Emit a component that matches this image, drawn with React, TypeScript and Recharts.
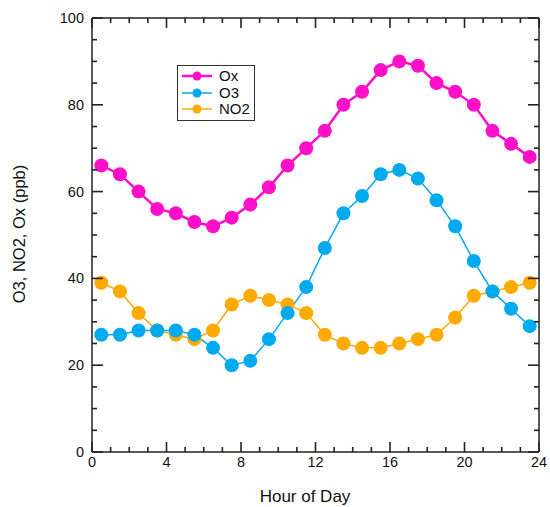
import React from 'react'
import { LineChart, Line, XAxis, YAxis, Legend, ReferenceLine } from 'recharts'

// hour-of-day mid points
const hours = [0.5, 1.5, 2.5, 3.5, 4.5, 5.5, 6.5, 7.5, 8.5, 9.5, 10.5, 11.5, 12.5, 13.5, 14.5, 15.5, 16.5, 17.5, 18.5, 19.5, 20.5, 21.5, 22.5, 23.5]
const ox = [66, 64, 60, 56, 55, 53, 52, 54, 57, 61, 66, 70, 74, 80, 83, 88, 90, 89, 85, 83, 80, 74, 71, 68]
const o3 = [27, 27, 28, 28, 28, 27, 24, 20, 21, 26, 32, 38, 47, 55, 59, 64, 65, 63, 58, 52, 44, 37, 33, 29]
const no2 = [39, 37, 32, 28, 27, 26, 28, 34, 36, 35, 34, 32, 27, 25, 24, 24, 25, 26, 27, 31, 36, 37, 38, 39]

const xTicks = [0, 1, 2, 3, 4, 5, 6, 7, 8, 9, 10, 11, 12, 13, 14, 15, 16, 17, 18, 19, 20, 21, 22, 23, 24]
const yTicks = [0, 5, 10, 15, 20, 25, 30, 35, 40, 45, 50, 55, 60, 65, 70, 75, 80, 85, 90, 95, 100]

const series = [
  { key: 'Ox', color: '#ff10c8', width: 2.5 },
  { key: 'O3', color: '#00aaee', width: 1.5 },
  { key: 'NO2', color: '#ffaa00', width: 1.5 },
]

const data = hours.map((h, i) => ({ hour: h, Ox: ox[i], O3: o3[i], NO2: no2[i] }))

const FONT = 'Arial, "Liberation Sans", sans-serif'
const AX = '#222'

// plot box, follows from the chart size, margins and axis sizes below
const W = 550
const H = 507
const M = { top: 18, right: 11, bottom: 0, left: 0 }
const Y_AXIS_W = 92
const X_AXIS_H = 55
const PL = M.left + Y_AXIS_W
const PR = W - M.right
const PT = M.top
const PB = H - M.bottom - X_AXIS_H

const XLabel = (props: any) => {
  const { x, y, payload } = props
  if (payload.value % 4 !== 0) return <g />
  return (
    <text x={x} y={y + 15} textAnchor="middle" fontSize={14.5} fontFamily={FONT} fill="#111">
      {payload.value}
    </text>
  )
}

const YLabel = (props: any) => {
  const { x, y, payload } = props
  if (payload.value % 20 !== 0) return <g />
  return (
    <text x={x - 8} y={y + 5} textAnchor="end" fontSize={14.5} fontFamily={FONT} fill="#111">
      {payload.value}
    </text>
  )
}

// inward tick marks on all four sides of the frame
const TickMarks = () => {
  const sx = (v: number) => PL + (v / 24) * (PR - PL)
  const sy = (v: number) => PB - (v / 100) * (PB - PT)
  return (
    <svg width={W} height={H} style={{ position: 'absolute', left: 0, top: 0, pointerEvents: 'none' }}>
      <g stroke={AX} strokeWidth={1.6} fill="none">
        {xTicks.map((v) => {
          const len = v % 4 === 0 ? 10 : 5
          return (
            <g key={'x' + v}>
              <line x1={sx(v)} y1={PB} x2={sx(v)} y2={PB - len} />
              <line x1={sx(v)} y1={PT} x2={sx(v)} y2={PT + len} />
            </g>
          )
        })}
        {yTicks.map((v) => {
          const len = v % 20 === 0 ? 11 : 5
          return (
            <g key={'y' + v}>
              <line x1={PL} y1={sy(v)} x2={PL + len} y2={sy(v)} />
              <line x1={PR} y1={sy(v)} x2={PR - len} y2={sy(v)} />
            </g>
          )
        })}
      </g>
    </svg>
  )
}

const LegendBox = () => (
  <div style={{ border: '1.5px solid #333', background: '#fff', padding: '2px 4px', fontFamily: FONT, fontSize: 15, lineHeight: '16.5px' }}>
    {series.map((s) => (
      <div key={s.key} style={{ display: 'flex', alignItems: 'center' }}>
        <svg width={32} height={16}>
          <line x1={0} y1={8} x2={30} y2={8} stroke={s.color} strokeWidth={s.width} />
          <circle cx={15} cy={8} r={4.5} fill={s.color} />
        </svg>
        <span style={{ marginLeft: 5, color: '#111' }}>{s.key}</span>
      </div>
    ))}
  </div>
)

const titleStyle: React.CSSProperties = {
  position: 'absolute',
  fontFamily: FONT,
  fontSize: 17,
  color: '#111',
  whiteSpace: 'nowrap',
  lineHeight: '20px',
}

export default function App() {
  return (
    <div style={{ position: 'absolute', left: 0, top: 0, width: W, height: H, background: '#fff' }}>
      <LineChart width={W} height={H} data={data} margin={M}>
        <XAxis
          dataKey="hour"
          type="number"
          domain={[0, 24]}
          ticks={xTicks}
          interval={0}
          height={X_AXIS_H}
          tickSize={0}
          tickMargin={0}
          tickLine={false}
          axisLine={{ stroke: AX, strokeWidth: 1.5 }}
          tick={XLabel}
        />
        <YAxis
          type="number"
          domain={[0, 100]}
          ticks={yTicks}
          interval={0}
          width={Y_AXIS_W}
          tickSize={0}
          tickMargin={0}
          tickLine={false}
          axisLine={{ stroke: AX, strokeWidth: 1.5 }}
          tick={YLabel}
        />
        <ReferenceLine y={100} stroke={AX} strokeWidth={1.5} />
        <ReferenceLine x={24} stroke={AX} strokeWidth={1.5} />
        <Legend
          layout="horizontal"
          align="center"
          verticalAlign="middle"
          content={() => <LegendBox />}
          wrapperStyle={{ left: 177, top: 65, width: 'auto', bottom: 'auto' }}
        />
        <Line dataKey="Ox" stroke={series[0].color} strokeWidth={2.5} dot={{ r: 7, fill: series[0].color, stroke: 'none' }} isAnimationActive={false} />
        <Line dataKey="NO2" stroke={series[2].color} strokeWidth={1.5} dot={{ r: 7, fill: series[2].color, stroke: 'none' }} isAnimationActive={false} />
        <Line dataKey="O3" stroke={series[1].color} strokeWidth={1.5} dot={{ r: 7, fill: series[1].color, stroke: 'none' }} isAnimationActive={false} />
      </LineChart>
      <TickMarks />
      <div style={{ ...titleStyle, left: 305, top: 487, transform: 'translateX(-50%)' }}>Hour of Day</div>
      <div style={{ ...titleStyle, left: 19, top: 234, transform: 'translate(-50%, -50%) rotate(-90deg)', fontSize: 16.5 }}>
        O3, NO2, Ox (ppb)
      </div>
    </div>
  )
}
